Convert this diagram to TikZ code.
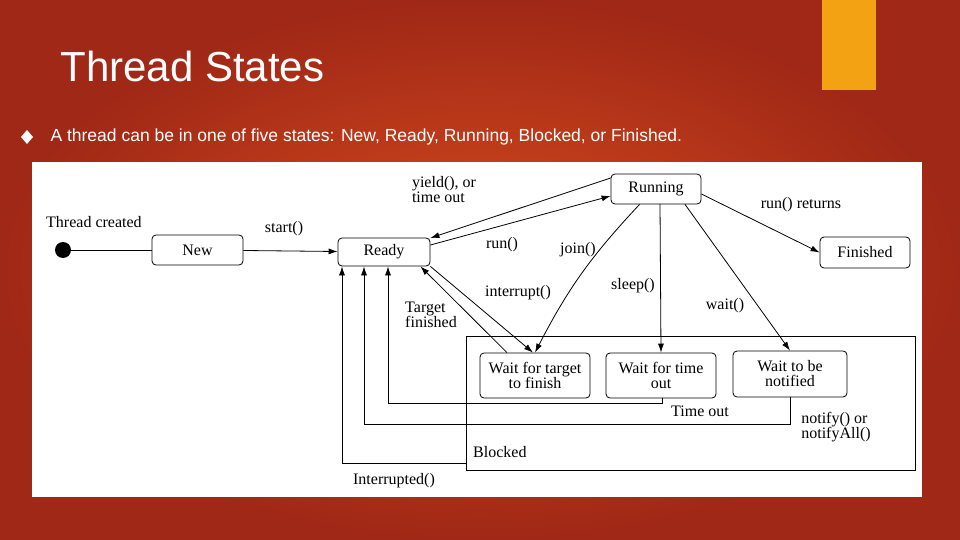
\documentclass[tikz,border=0pt]{standalone}
\usepackage{fontspec}
\setmainfont{Liberation Serif}
\newfontfamily\slidefont{Liberation Sans}
\usetikzlibrary{positioning, arrows.meta}

\definecolor{slidebg}{RGB}{215,75,30}
\definecolor{slidedark}{RGB}{160,40,22}
\definecolor{slidetab}{RGB}{242,162,18}

\begin{document}
\begin{tikzpicture}[x = 1pt, y = -1pt, > = {Latex[length = 9pt, width = 6pt]},
	state/.style = {draw, rounded corners = 4pt, thick, fill = white, font = \fontsize{16}{17}\selectfont, align = center, inner sep = 0pt},
	lbl/.style = {font = \fontsize{16}{17}\selectfont, align = left, inner sep = 0pt},
	edge/.style = {->, thick}]

	% Slide background

	\useasboundingbox (0, 0) rectangle (960, 540);
	\shade [inner color = slidebg, outer color = slidedark] (0, 0) rectangle (960, 540);
	\fill [slidetab] (822, 0) rectangle (876, 90);

	\node [anchor = west, text = white, font = \slidefont\fontsize{42}{46}\selectfont] (title) at (57, 66) {Thread States};
	\fill [white] (27, 130) -- (33, 137) -- (27, 144) -- (21, 137) -- cycle;
	\node [anchor = west, text = white, font = \slidefont\fontsize{17.5}{20}\selectfont] (bullet) at (47, 137) {A thread can be in one of five states: New, Ready, Running, Blocked, or Finished.};

	% Diagram panel

	\fill [white] (32, 162) rectangle (922, 497);

	% Blocked container

	\draw [thick] (466, 336) rectangle (915, 470);
	\node [lbl, anchor = west] (blocked) at (473, 452) {Blocked};

	% States

	\fill (63, 250) circle (8);
	\coordinate (start) at (63, 250);
	\node [state, minimum width = 91, minimum height = 30] (new) at (197.5, 250) {New};
	\node [state, minimum width = 92, minimum height = 28] (ready) at (384, 252) {Ready};
	\node [state, minimum width = 90, minimum height = 30] (running) at (656, 189) {Running};
	\node [state, minimum width = 90, minimum height = 31] (finished) at (865, 252.5) {Finished};
	\node [state, minimum width = 110, minimum height = 45] (waittarget) at (535, 375.5) {Wait for target\\[-2pt]to finish};
	\node [state, minimum width = 110, minimum height = 45] (waittime) at (661, 375.5) {Wait for time\\[-2pt]out};
	\node [state, minimum width = 114, minimum height = 46] (waitnotify) at (790, 374) {Wait to be\\[-2pt]notified};

	% Transitions

	\draw [thick] (start) -- (new);
	\draw [edge] (new) -- (ready);
	\draw [edge] (running.west |- 0, 178) -- (ready.north east |- 0, 238);
	\draw [edge] (ready.east |- 0, 245) -- (running.west |- 0, 196);
	\draw [edge] (running.south west) ++(29, 0) to [bend right = 8] (waittarget.north);
	\draw [edge] (ready.south east) -- ([xshift = -2pt] waittarget.north);
	\draw [edge] ([xshift = -28pt] waittarget.north) -- ([xshift = -10pt] ready.south east);
	\draw [edge] (running.south |- 0, 204) ++(4, 0) -- (waittime.north);
	\draw [edge] ([xshift = 29pt] running.south) -- (waitnotify.north);
	\draw [edge] (running.east |- 0, 194) -- (finished.west);

	\coordinate (timecorner) at (388, 403);
	\draw [edge] (waittime.south) ++(1, 0) |- (timecorner) -- (timecorner |- ready.south);
	\coordinate (notifycorner) at (364, 424);
	\draw [edge] (waitnotify.south) |- (notifycorner) -- (notifycorner |- ready.south);
	\coordinate (intcorner) at (342, 463);
	\draw [edge] (466, 463) -- (intcorner) -- (intcorner |- ready.south);

	% Labels

	\node [lbl, anchor = west] (created) at (46, 222) {Thread created};
	\node [lbl] (startlbl) at (284, 229) {start()};
	\node [lbl] (yieldlbl) at (444, 190) {yield(), or\\[-2pt]time out};
	\node [lbl] (runlbl) at (502, 245) {run()};
	\node [lbl] (joinlbl) at (578, 250) {join()};
	\node [lbl] (interruptlbl) at (518, 293) {interrupt()};
	\node [lbl] (sleeplbl) at (633, 286) {sleep()};
	\node [lbl] (waitlbl) at (725, 306) {wait()};
	\node [lbl] (returnslbl) at (801, 205) {run() returns};
	\node [lbl] (targetlbl) at (431, 315) {Target\\[-2pt]finished};
	\node [lbl] (timeoutlbl) at (700, 411) {Time out};
	\node [lbl] (notifylbl) at (836, 427) {notify() or\\[-2pt]notifyAll()};
	\node [lbl] (interruptedlbl) at (394, 481) {Interrupted()};

\end{tikzpicture}
\end{document}
